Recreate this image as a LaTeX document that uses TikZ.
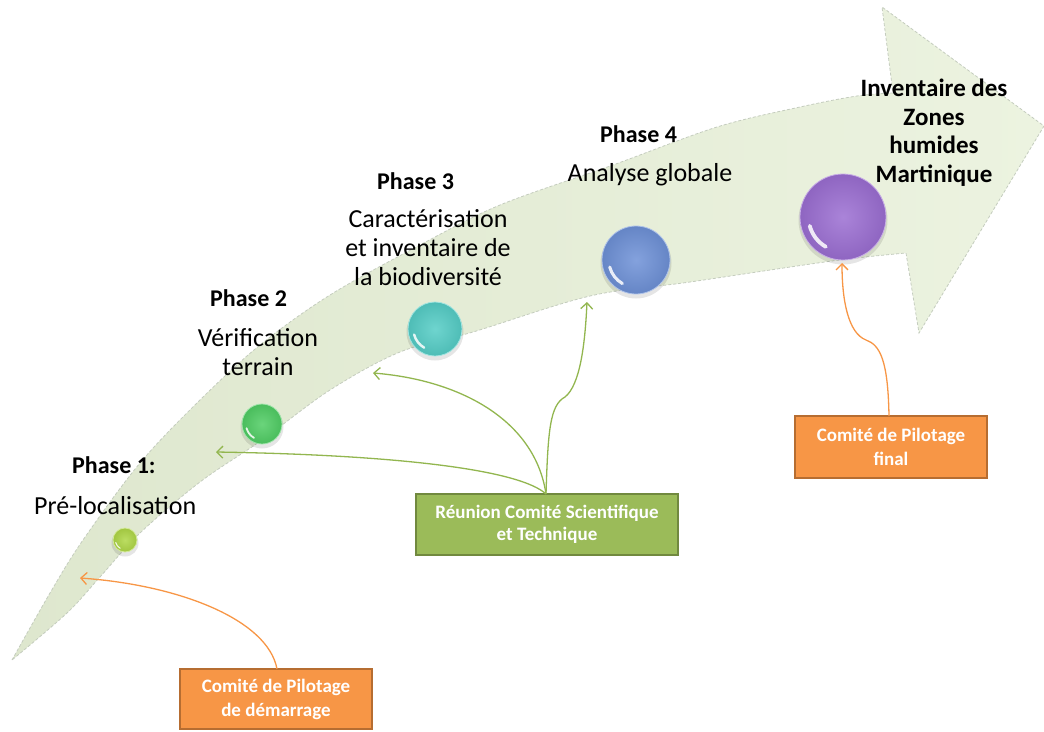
\documentclass[tikz,border=0pt]{standalone}
\usepackage{fontspec}
\setmainfont{Carlito}
\usetikzlibrary{arrows.meta,shadings}
\definecolor{bandA}{RGB}{222,231,206}
\definecolor{bandB}{RGB}{236,243,224}
\definecolor{bandEdge}{RGB}{196,204,190}
\definecolor{grnFill}{RGB}{155,187,89}
\definecolor{grnLine}{RGB}{113,137,63}
\definecolor{grnArrow}{RGB}{146,182,79}
\definecolor{orgFill}{RGB}{247,150,70}
\definecolor{orgLine}{RGB}{182,109,49}
\definecolor{orgArrow}{RGB}{247,150,70}
\definecolor{ballA}{RGB}{175,215,70}
\definecolor{ballB}{RGB}{80,205,100}
\definecolor{ballC}{RGB}{85,205,198}
\definecolor{ballD}{RGB}{110,145,215}
\definecolor{ballE}{RGB}{155,110,210}
\tikzset{
  phaselbl/.style={font=\fontsize{24}{28}\selectfont\bfseries, anchor=base west, inner sep=0pt},
  desclbl/.style={font=\fontsize{26}{29}\selectfont, align=center, anchor=base, inner sep=0pt},
  finallbl/.style={font=\fontsize{25}{28.5}\selectfont\bfseries, align=center, anchor=base, inner sep=0pt},
  boxg/.style={draw=grnLine, fill=grnFill, line width=2.5pt, text=white, font=\fontsize{19}{22.5}\selectfont\bfseries, align=center},
  boxo/.style={draw=orgLine, fill=orgFill, line width=2.5pt, text=white, font=\fontsize{19}{24}\selectfont\bfseries, align=center},
  gconn/.style={draw=grnArrow, line width=1.3pt, -{Straight Barb[length=6pt,width=12pt]}},
  oconn/.style={draw=orgArrow, line width=1.3pt, -{Straight Barb[length=6pt,width=12pt]}},
  bead/.style={circle, inner sep=0pt, draw=#1!55!white, line width=0.8pt, inner color=#1!85!white, outer color=#1!92!black}
}
\begin{document}
\begin{tikzpicture}[x=1pt,y=-1pt]
\useasboundingbox (0,0) rectangle (1044,731);
% big curved arrow
\path[left color=bandA, right color=bandB, draw=bandEdge, line width=0.8pt, densely dashed]
  plot[smooth, tension=0.55] coordinates {(12,660) (50,593) (83,540) (140,463) (200,400) (260,345) (330,295) (420,245) (500,205) (613,165) (717,127) (800,107) (857,96) (893,93)}
  -- (882,7) -- (1044,126) -- (919,333) -- (906,253)
  -- plot[smooth, tension=0.55] coordinates {(906,253) (832,261) (690,282) (590,296) (473,332) (400,352) (330,390) (262,440) (200,482) (140,533) (100,577) (67,613) (12,660)}
  -- cycle;
% beads with soft shadow
\foreach \x/\y/\r in {125/540/12, 262/424/20, 435/329/27, 636/260/34, 843/217/43}{
  \fill[black, opacity=0.10] (\x,\y+3) circle (\r+1.5);
}
\node[bead=ballA, minimum size=24pt] (b1) at (125,540) {};
\node[bead=ballB, minimum size=40pt] (b2) at (262,424) {};
\node[bead=ballC, minimum size=54pt] (b3) at (435,329) {};
\node[bead=ballD, minimum size=68pt] (b4) at (636,260) {};
\node[bead=ballE, minimum size=86pt] (b5) at (843,217) {};
% glossy glints (lower left)
\foreach \n/\r in {b1/12, b2/20, b3/27, b4/34, b5/43}{
  \draw[white, opacity=0.85, line width=\r*0.09pt, line cap=round]
    ([shift={({-0.966*\r*0.8},{0.259*\r*0.8})}]\n.center) arc[start angle=165, end angle=120, radius=\r*0.8];
}
% labels
\node[phaselbl] (ph1) at (72,473) {Phase 1:};
\node[desclbl, anchor=base west] (d1) at (34,514) {Pré-localisation};
\node[phaselbl] (ph2) at (210,306) {Phase 2};
\node[desclbl] (d2) at (258,375) {Vérification\\terrain};
\node[phaselbl] (ph3) at (377,189) {Phase 3};
\node[desclbl] (d3) at (428,285) {Caractérisation\\et inventaire de\\la biodiversité};
\node[phaselbl] (ph4) at (600,142) {Phase 4};
\node[desclbl] (d4) at (650,181) {Analyse globale};
\node[finallbl] (fin) at (934,182) {Inventaire des\\Zones\\humides\\Martinique};
% boxes
\node[boxg, minimum width=262pt, minimum height=61pt] (rcs) at (547,524.5) {Réunion Comité Scientifique\\et Technique};
\node[boxo, minimum width=192pt, minimum height=60pt] (cpd) at (276,699) {Comité de Pilotage\\de démarrage};
\node[boxo, minimum width=192pt, minimum height=62pt] (cpf) at (891,447) {Comité de Pilotage\\final};
% connector endpoints
\coordinate (rs) at (546,494);
\coordinate (e2) at (216,452);
\coordinate (e3) at (373,373);
\coordinate (e4) at (587,302);
\coordinate (k4) at (565,397);
\coordinate (e1) at (80,578);
\coordinate (os) at (277,669);
\coordinate (fs) at (889,416);
\coordinate (kf) at (866,340);
\coordinate (ef) at (842,263);
% connectors
\draw[gconn] (rs) .. controls (520,470) and (400,455) .. (e2);
\draw[gconn] (rs) .. controls (535,420) and (460,380) .. (e3);
\draw[gconn] (rs) .. controls (548,430) and (550,405) .. (k4) .. controls (580,385) and (585,345) .. (e4);
\draw[oconn] (os) .. controls (268,620) and (180,585) .. (e1);
\draw[oconn] (fs) .. controls (888,360) and (880,345) .. (kf) .. controls (848,333) and (842,300) .. (ef);
\end{tikzpicture}
\end{document}
